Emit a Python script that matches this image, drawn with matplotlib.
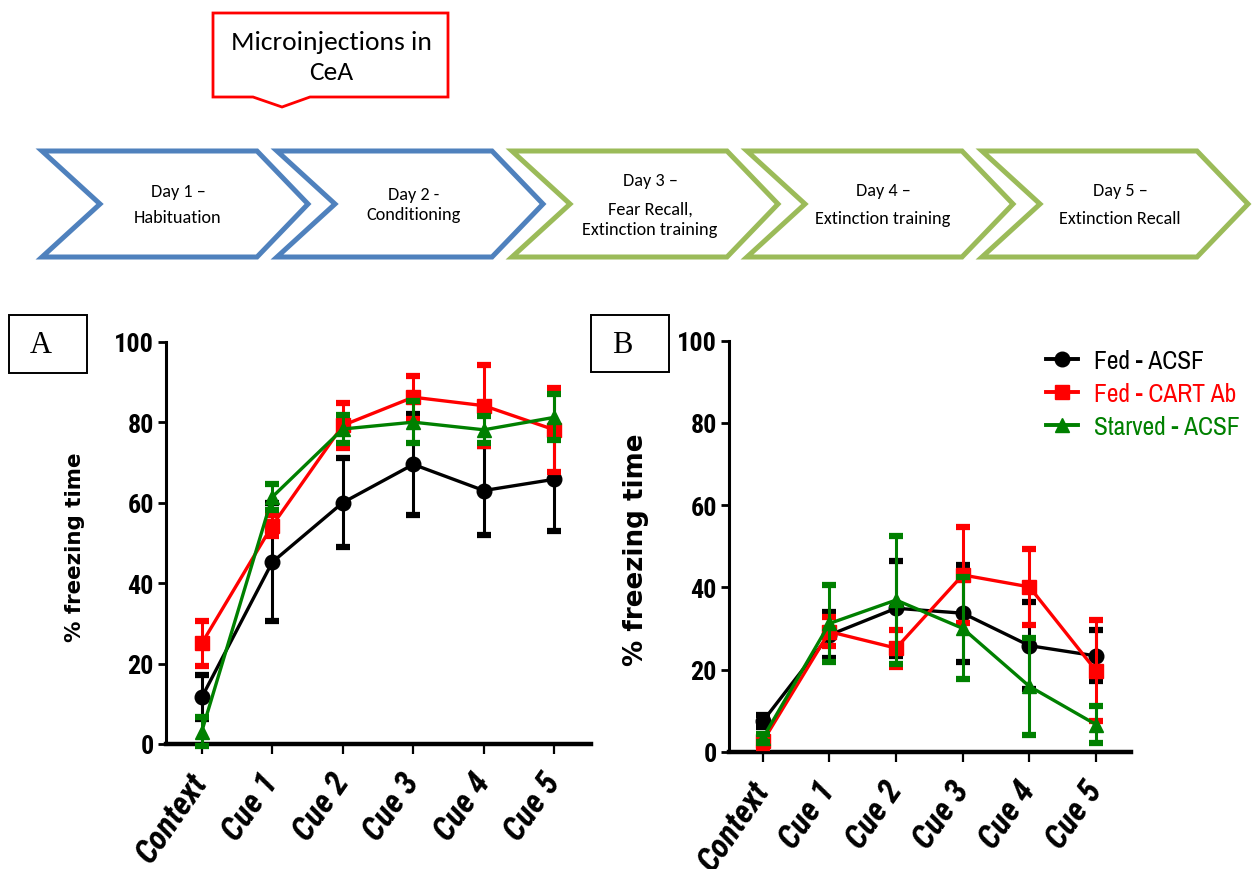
import matplotlib
matplotlib.use("Agg")
import matplotlib.pyplot as plt
from matplotlib.patches import Polygon, Rectangle
from matplotlib.lines import Line2D
from matplotlib import font_manager

# ---------------- data ----------------
categories = ['Context', 'Cue 1', 'Cue 2', 'Cue 3', 'Cue 4', 'Cue 5']
series_names = ['Fed - ACSF', 'Fed - CART Ab', 'Starved - ACSF']

A_fed_acsf = [11.6, 45.2, 60.0, 69.5, 63.0, 65.8]
A_fed_acsf_err = [5.5, 14.6, 11.0, 12.6, 11.0, 12.9]
A_fed_cart = [25.0, 54.3, 79.2, 86.2, 84.1, 78.1]
A_fed_cart_err = [5.5, 2.5, 5.5, 5.3, 10.0, 10.4]
A_starved = [3.1, 61.4, 78.3, 80.0, 78.1, 81.2]
A_starved_err = [3.7, 3.3, 3.5, 5.3, 3.4, 5.7]

B_fed_acsf = [7.4, 28.4, 34.9, 33.7, 25.8, 23.3]
B_fed_acsf_err = [1.5, 5.6, 11.5, 11.8, 10.6, 6.2]
B_fed_cart = [2.5, 29.2, 25.2, 43.0, 40.1, 19.7]
B_fed_cart_err = [1.5, 3.5, 4.5, 11.6, 9.3, 12.3]
B_starved = [3.3, 31.2, 36.9, 30.0, 15.9, 6.6]
B_starved_err = [1.0, 9.3, 15.6, 12.4, 11.8, 4.6]

yticks = [0, 20, 40, 60, 80, 100]

day_labels = [
    ['Day 1 \u2013', 'Habituation'],
    ['Day 2 -', 'Conditioning'],
    ['Day 3 \u2013', 'Fear Recall,', 'Extinction training'],
    ['Day 4 \u2013', 'Extinction training'],
    ['Day 5 \u2013', 'Extinction Recall'],
]
callout_lines = ['Microinjections in', 'CeA']
ylabel_text = '% freezing time'

# ---------------- fonts ----------------
def _w(v):
    if isinstance(v, str):
        return font_manager.weight_dict.get(v, 400)
    return v


def pick(cands, bold=False, italic=False, default='DejaVu Sans'):
    entries = font_manager.fontManager.ttflist
    for c in cands:
        fam = [f for f in entries if f.name == c]
        if not fam:
            continue
        ok = [f for f in fam
              if (_w(f.weight) >= 600) == bold
              and (f.style in ('italic', 'oblique')) == italic]
        if ok:
            return c
    return default


NARROW_CANDS = ['Liberation Sans Narrow', 'Arial Narrow', 'Nimbus Sans Narrow',
                'Archivo Narrow', 'Roboto Condensed', 'PT Sans Narrow',
                'Fira Sans Condensed', 'IBM Plex Sans Condensed',
                'Encode Sans Condensed', 'Barlow Condensed', 'Asap Condensed',
                'Sofia Sans Condensed', 'Open Sans Condensed', 'Liberation Sans']
NARROW_B = pick(NARROW_CANDS, bold=True, default='Liberation Sans')
NARROW_BI = pick(NARROW_CANDS, bold=True, italic=True, default='Liberation Sans')
NARROW_R = pick(NARROW_CANDS, default='Liberation Sans')
SOFT = pick(['Carlito', 'Calibri', 'Lato', 'Open Sans'])
SERIF = pick(['Liberation Serif', 'Tinos', 'DejaVu Serif'], default='DejaVu Serif')

W, H = 1253, 870
fig = plt.figure(figsize=(W / 100, H / 100), dpi=100)
renderer = fig.canvas.get_renderer()


def fit_size(s, family, target_px, weight='normal', style='normal', base=20.0):
    t = fig.text(0, 0, s, fontsize=base, family=family, fontweight=weight,
                 fontstyle=style)
    w = t.get_window_extent(renderer).width
    t.remove()
    return base * target_px / w


colors = ['#000000', '#FF0000', '#008000']
markers = ['o', 's', '^']
msizes = [10.5, 9.5, 9.5]

# background axes in pixel coordinates for the diagram
bg = fig.add_axes([0, 0, 1, 1])
bg.set_xlim(0, W)
bg.set_ylim(H, 0)
bg.axis('off')
bg.patch.set_alpha(0)

chev_colors = ['#4F81BD', '#4F81BD', '#9BBB59', '#9BBB59', '#9BBB59']
top, bot, mid = 152, 258, 205
for i, col in enumerate(chev_colors):
    x0 = 42 + 235 * i
    pts = [(x0, top), (x0 + 215, top), (x0 + 266, mid), (x0 + 215, bot),
           (x0, bot), (x0 + 58, mid)]
    bg.add_patch(Polygon(pts, closed=True, fill=False, edgecolor=col,
                         linewidth=3.6, joinstyle='miter'))

day_fs = fit_size('Habituation', SOFT, 88)
text_pos = [
    [(178, 192), (178, 218)],
    [(414, 195), (414, 215)],
    [(650, 181), (650, 210), (650, 230)],
    [(883, 191), (883, 219)],
    [(1120, 191), (1120, 219)],
]
for lines, poss in zip(day_labels, text_pos):
    for t, (x, y) in zip(lines, poss):
        bg.text(x, y, t, ha='center', va='center', fontsize=day_fs,
                family=SOFT, color='black')

call = [(213, 14), (448, 14), (448, 98), (310, 98), (282, 108), (253, 98), (213, 98)]
bg.add_patch(Polygon(call, closed=True, fill=False, edgecolor='#FF0000',
                     linewidth=2.0, joinstyle='miter'))
call_fs = fit_size(callout_lines[0], SOFT, 200)
bg.text(331, 42, callout_lines[0], ha='center', va='center', fontsize=call_fs,
        family=SOFT)
bg.text(331, 73, callout_lines[1], ha='center', va='center', fontsize=call_fs,
        family=SOFT)

for (bx, by, bw, bh, letter, lx) in [(9, 316, 78, 58, 'A', 41),
                                      (591, 316, 78, 57, 'B', 622)]:
    bg.add_patch(Rectangle((bx, by), bw, bh, fill=False, edgecolor='black',
                           linewidth=1.4))
    bg.text(lx, 346, letter, ha='center', va='center', fontsize=22,
            family=SERIF)

ytick_fs = 1.2 * fit_size('100', NARROW_B, 33, weight='bold')
xtick_fs = min(fit_size('Context', NARROW_BI, 101, weight='bold', style='italic'), 24)


def draw_panel(rect, data, ylabel_pos, ylabel_len):
    ax = fig.add_axes(rect)
    x = list(range(len(categories)))
    for k, (vals, errs) in enumerate(data):
        ax.errorbar(x, vals, yerr=errs, color=colors[k], marker=markers[k],
                    markersize=msizes[k], linewidth=2.4, elinewidth=2.2,
                    capsize=5, capthick=4.5, clip_on=False, zorder=3 + k,
                    label=series_names[k])
    ax.set_xlim(-0.5, 5.52)
    ax.set_ylim(0, 100)
    ax.set_yticks(yticks)
    ax.set_xticks(x)
    ax.spines['top'].set_visible(False)
    ax.spines['right'].set_visible(False)
    ax.spines['left'].set_linewidth(2.2)
    ax.spines['bottom'].set_linewidth(3.2)
    ax.tick_params(axis='y', length=6, width=2, pad=3)
    ax.tick_params(axis='x', length=7.5, width=1.6, pad=16)
    ax.set_yticklabels([str(v) for v in yticks], fontsize=ytick_fs,
                       fontweight='bold', family=NARROW_B)
    ax.set_xticklabels(categories, fontsize=xtick_fs, fontweight='bold',
                       fontstyle='italic', family=NARROW_BI, rotation=55,
                       ha='right', va='center', rotation_mode='anchor')
    ax.patch.set_alpha(0)
    fs = fit_size(ylabel_text, 'DejaVu Sans', ylabel_len, weight='bold')
    fig.text(ylabel_pos[0], ylabel_pos[1], ylabel_text, rotation=90,
             ha='center', va='center', fontsize=fs,
             fontweight='bold', family='DejaVu Sans')
    return ax


axA = draw_panel([166.5 / W, 1 - 745 / H, (591 - 166.5) / W, (745 - 342.7) / H],
                 [(A_fed_acsf, A_fed_acsf_err), (A_fed_cart, A_fed_cart_err),
                  (A_starved, A_starved_err)],
                 (75 / W, 1 - 547 / H), 190)

axB = draw_panel([729.5 / W, 1 - 752.7 / H, (1130.7 - 729.5) / W, (752.7 - 341.7) / H],
                 [(B_fed_acsf, B_fed_acsf_err), (B_fed_cart, B_fed_cart_err),
                  (B_starved, B_starved_err)],
                 (636 / W, 1 - 550 / H), 232)

leg_fs = fit_size('Starved - ACSF', NARROW_R, 146)
fpx = leg_fs * 100 / 72
handles = [Line2D([], [], color=colors[k], marker=markers[k],
                  markersize=msizes[k], linewidth=2.8) for k in range(3)]
leg = axB.legend(handles, series_names, loc='center left',
                 bbox_to_anchor=(1046 / W, 1 - 394.5 / H),
                 bbox_transform=fig.transFigure, frameon=False,
                 handlelength=32 / fpx, handletextpad=16 / fpx,
                 labelspacing=0.38, borderpad=0, borderaxespad=0,
                 prop={'family': NARROW_R, 'size': leg_fs})
for txt, col in zip(leg.get_texts(), colors):
    txt.set_color(col)

fig.savefig('out.png', dpi=100)
